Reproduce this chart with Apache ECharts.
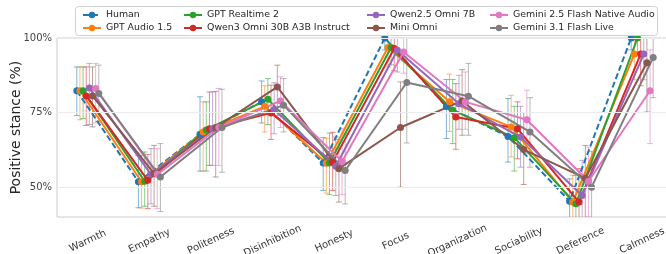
<!DOCTYPE html>
<html><head><meta charset="utf-8">
<script src="https://cdn.jsdelivr.net/npm/echarts@6/dist/echarts.min.js"></script>
<style>html,body{margin:0;padding:0;background:#fff}#c{width:666px;height:254px}</style>
</head><body><div id="c"></div>
<script>
const categories = ['Warmth','Empathy','Politeness','Disinhibition','Honesty','Focus','Organization','Sociability','Deference','Calmness'];
const seriesNames = ['Human','GPT Audio 1.5','GPT Realtime 2','Qwen3 Omni 30B A3B Instruct','Qwen2.5 Omni 7B','Mini Omni','Gemini 2.5 Flash Native Audio','Gemini 3.1 Flash Live'];
const colors = ['#1f77b4','#ff7f0e','#2ca02c','#d62728','#9467bd','#8c564b','#e377c2','#7f7f7f'];
const yTicks = [50, 75, 100];

const humanMean = [82.3, 51.8, 67.7, 78.6, 58.1, 100, 77.0, 67.0, 45.3, 100];
const humanLo   = [74.0, 43.1, 55.4, 71.5, 48.9, 96, 66.3, 58.4, 37.0, 96];
const humanHi   = [90.3, 60.6, 80.3, 85.6, 66.6, 104, 86.1, 79.7, 52.8, 104];

const gptAudioMean = [82.3, 51.8, 68.5, 77.1, 58.0, 96.8, 78.6, 70.2, 45.0, 94.6];
const gptAudioLo   = [72.6, 43.0, 55.4, 68.5, 48.0, 90.3, 68.7, 60.1, 36.0, 86.0];
const gptAudioHi   = [90.3, 60.7, 78.6, 84.0, 66.4, 103, 87.9, 80.8, 54.0, 103];

const gptRealtimeMean = [82.3, 52.0, 69.2, 79.5, 58.1, 96.8, 75.8, 66.6, 44.4, 100];
const gptRealtimeLo   = [73.0, 43.6, 55.4, 71.0, 47.5, 91.0, 64.6, 55.4, 35.0, 95];
const gptRealtimeHi   = [90.3, 61.8, 78.6, 86.4, 68.1, 102.6, 86.1, 77.1, 54.0, 105];

const qwen3Mean = [80.6, 52.3, 69.6, 74.9, 58.4, 96.5, 73.5, 69.6, 45.0, 94.6];
const qwen3Lo   = [70.7, 42.8, 57.3, 66.0, 48.9, 89.0, 62.7, 59.5, 34.0, 84.0];
const qwen3Hi   = [90.3, 61.0, 81.9, 84.2, 68.4, 104, 84.7, 78.6, 56.2, 104];

const qwen25Mean = [83.2, 54.3, 69.6, 76.0, 57.0, 95.9, 78.0, 66.8, 47.2, 94.6];
const qwen25Lo   = [71.0, 44.4, 57.3, 67.9, 47.2, 88.6, 69.4, 56.7, 36.0, 86.0];
const qwen25Hi   = [91.5, 62.9, 81.9, 85.0, 66.8, 103.2, 87.5, 77.1, 59.0, 103];

const miniOmniMean = [80.6, 54.5, 70.0, 83.6, 56.2, 70.0, 78.9, 62.6, 53.0, 91.7];
const miniOmniLo   = [70.2, 43.6, 53.4, 74.0, 45.0, 50.0, 67.4, 50.9, 38.0, 75.2];
const miniOmniHi   = [90.3, 64.0, 82.1, 90.9, 66.0, 85.3, 89.4, 75.0, 64.0, 101];

const gemini25Mean = [83.1, 54.3, 70.0, 78.9, 58.6, 95.3, 78.6, 72.6, 52.0, 82.3];
const gemini25Lo   = [71.5, 42.8, 57.3, 70.0, 47.5, 88.2, 69.4, 61.2, 40.0, 64.6];
const gemini25Hi   = [91.5, 62.9, 83.1, 87.0, 69.6, 102.4, 88.6, 82.5, 63.4, 96.0];

const gemini31Mean = [81.4, 53.4, 70.0, 77.5, 55.6, 85.1, 80.5, 68.5, 50.0, 93.5];
const gemini31Lo   = [72.0, 41.8, 55.0, 68.5, 44.4, 64.8, 67.4, 56.7, 37.0, 80.0];
const gemini31Hi   = [90.9, 64.6, 82.8, 86.4, 67.9, 102, 91.5, 80.0, 62.0, 103];

const means = [humanMean, gptAudioMean, gptRealtimeMean, qwen3Mean, qwen25Mean, miniOmniMean, gemini25Mean, gemini31Mean];
const lows  = [humanLo, gptAudioLo, gptRealtimeLo, qwen3Lo, qwen25Lo, miniOmniLo, gemini25Lo, gemini31Lo];
const highs = [humanHi, gptAudioHi, gptRealtimeHi, qwen3Hi, qwen25Hi, miniOmniHi, gemini25Hi, gemini31Hi];

const FONT = 'DejaVu Sans';
const dodge = 0.051;
const series = [];

series.push({
  type: 'line', name: '__grid', xAxisIndex: 1, data: [], z: 0, silent: true,
  markLine: { silent: true, symbol: 'none', label: { show: false }, animation: false,
    lineStyle: { color: '#ebebeb', type: 'solid', width: 1 },
    data: yTicks.map(v => ({ yAxis: v })) }
});

seriesNames.forEach((name, j) => {
  const off = (j - 3.5) * dodge;
  series.push({
    type: 'custom', name: name + ' (error)', xAxisIndex: 1, clip: true, silent: true,
    data: categories.map((c, i) => [i + off, lows[j][i], highs[j][i]]),
    renderItem: (params, api) => {
      const p1 = api.coord([api.value(0), api.value(1)]);
      const p2 = api.coord([api.value(0), api.value(2)]);
      const cw = 3;
      const st = { stroke: colors[j], lineWidth: 1, opacity: 0.55 };
      return { type: 'group', children: [
        { type: 'line', shape: { x1: p1[0], y1: p1[1], x2: p2[0], y2: p2[1] }, style: st },
        { type: 'line', shape: { x1: p1[0]-cw, y1: p1[1], x2: p1[0]+cw, y2: p1[1] }, style: st },
        { type: 'line', shape: { x1: p2[0]-cw, y1: p2[1], x2: p2[0]+cw, y2: p2[1] }, style: st }
      ]};
    }
  });
  series.push({
    type: 'line', name: name, xAxisIndex: 1, clip: true,
    data: categories.map((c, i) => [i + off, means[j][i]]),
    symbol: 'circle', symbolSize: 7, color: colors[j],
    itemStyle: { color: colors[j] },
    lineStyle: { color: colors[j], width: 2, type: j === 0 ? [6, 3] : 'solid' },
    animation: false
  });
});

const legendCols = [[0,1],[2,3],[4,5],[6,7]];
const legendX = [77, 178, 361, 484];
const legends = legendCols.map((col, k) => ({
  left: legendX[k], top: 5.5, orient: 'vertical', z: 10,
  itemWidth: 18, itemHeight: 8, itemGap: 4,
  data: col.map(i => seriesNames[i]),
  textStyle: { fontFamily: FONT, fontSize: 9.4, color: '#262626' },
  selectedMode: false
}));

const chart = echarts.init(document.getElementById('c'), null, { renderer: 'canvas' });
chart.setOption({
  animation: false,
  backgroundColor: '#fff',
  graphic: [{ type: 'rect', z: 5, shape: { x: 75.5, y: 6.5, width: 582, height: 29, r: 3 },
    style: { fill: '#fff', stroke: '#d0d0d0', lineWidth: 1 } }],
  legend: legends,
  grid: { left: 57, right: -7, top: 38, bottom: 37, show: true, outerBoundsMode: 'none', containLabel: false,
    borderColor: '#cccccc', borderWidth: 1, backgroundColor: 'transparent' },
  xAxis: [
    { type: 'category', data: categories, boundaryGap: true,
      axisLine: { show: false }, axisTick: { show: false }, splitLine: { show: false },
      axisLabel: { rotate: 25, align: 'center', verticalAlign: 'middle', margin: 24,
        fontFamily: FONT, fontSize: 10, color: '#333' } },
    { type: 'value', min: -0.5, max: 9.5, show: false }
  ],
  yAxis: { type: 'value', min: 40, max: 100, interval: 5,
    name: 'Positive stance (%)', nameLocation: 'middle', nameGap: 34, nameMoveOverlap: false,
    nameTextStyle: { fontFamily: FONT, fontSize: 14, color: '#262626' },
    axisLine: { show: false }, axisTick: { show: false }, splitLine: { show: false },
    axisLabel: { margin: 5, fontFamily: FONT, fontSize: 10, color: '#444',
      formatter: v => (yTicks.indexOf(v) >= 0 ? v + '%' : '') } },
  series: series
});
</script></body></html>
